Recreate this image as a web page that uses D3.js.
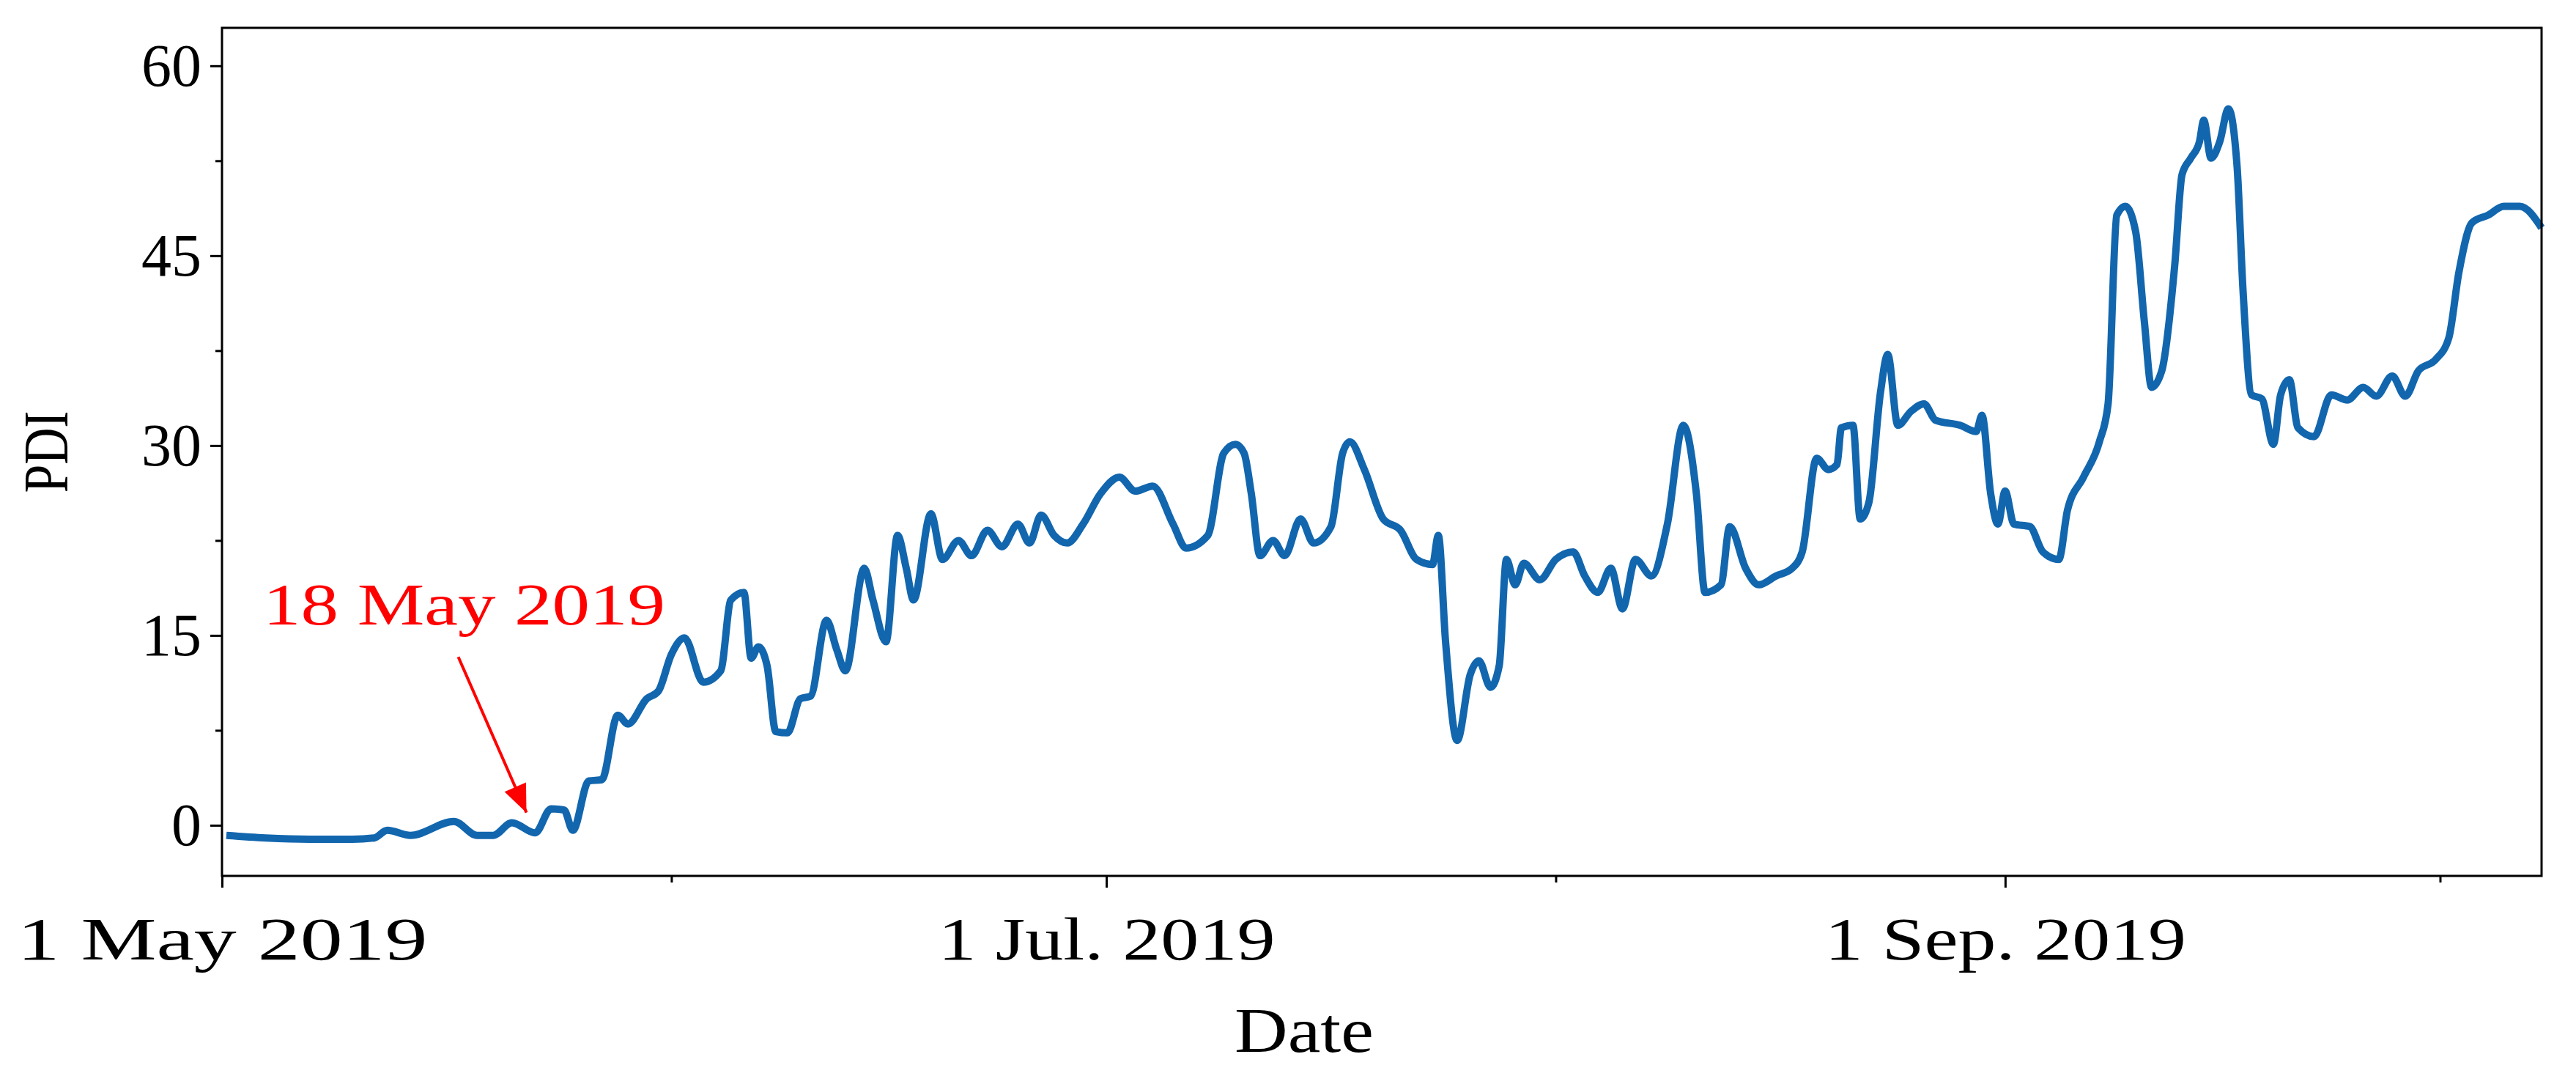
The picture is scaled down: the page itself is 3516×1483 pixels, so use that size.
<!DOCTYPE html>
<html><head><meta charset="utf-8">
<script src="https://cdn.jsdelivr.net/npm/d3@7"></script>
<style>body{margin:0;background:#fff}</style></head>
<body><svg id="c" width="3516" height="1483"></svg>
<script>
const dayOffsets=[0.3,3,6,9,10.5,11.4,13,16,17.6,18.7,20,21.6,22.7,23.6,24.2,25.3,26.2,27.3,28,29.3,30.1,31,31.9,33.2,34.4,35.1,36,36.5,37,37.6,38.2,39,39.9,40.6,41.7,42.4,43,44.3,44.9,45.8,46.6,47.2,47.7,48.9,49.7,50.8,51.7,52.8,53.8,54.9,55.7,56.5,57.4,58.3,59.4,60.6,61.9,63,64.2,65.6,66.5,68,69.1,69.9,70.5,71,71.6,72.5,73.3,74.4,75.3,76.5,77.3,77.8,78.8,80.1,81.3,82.4,83.5,83.9,84.4,85.2,86.1,86.7,87.5,88.1,88.6,89.2,89.8,90.9,92,93.2,94,94.9,95.8,96.6,97.5,98.6,99.7,100.8,101.7,102.3,103.4,104,105.1,106,107.2,108.3,109,110,110.8,111.4,111.7,112.5,113,113.6,114.4,114.9,115.6,116.5,117.4,118.2,119.9,121,121.4,122,122.5,123,123.6,124.7,125.6,126.7,127.3,128.4,129.5,130.1,130.7,131.3,132,132.6,133.1,133.8,134.7,135.2,135.8,136.4,136.7,137.2,137.8,138.4,139,139.4,140,140.7,141.5,142,142.6,143.2,144.3,145.5,146.6,147.7,148.6,149.7,150.6,151.5,152.7,153.6,154.3,155.2,156.3,157.4,158.5,160];
const pdiValues=[-0.8,-1,-1.1,-1.1,-1,-0.4,-0.8,0.3,-0.8,-0.8,0.2,-0.6,1.3,1.2,-0.4,3.5,3.6,8.7,8,10,10.6,13.5,14.8,11.3,12.2,17.8,18.4,13.2,14.1,12.6,7.4,7.3,10,10.2,16.2,13.9,12.2,20.3,17.8,14.5,22.9,20.3,17.8,24.6,21,22.5,21.3,23.3,22,23.8,22.3,24.5,22.9,22.3,23.8,26.2,27.5,26.4,26.8,23.8,21.9,22.9,29.4,30.1,29.4,26.2,21.3,22.5,21.3,24.2,22.3,23.6,29.4,30.3,28.1,24.2,23.3,21,20.6,22.9,14.5,6.7,11.9,13,10.9,12.6,21,19,20.7,19.4,21,21.6,19.7,18.4,20.3,17.1,21,19.7,23.8,31.6,26.2,18.4,19,23.6,20.3,19,19.7,20.3,21.6,29,28.1,28.5,31.4,31.6,24.2,25.5,34.2,37.2,31.6,32.7,33.3,32,31.6,31.1,32.4,26.2,23.8,26.4,23.8,23.6,21.6,21,24.9,27.5,30.3,33.3,48.2,48.9,46.9,39.8,34.6,35.9,44.3,51.4,52.7,54,55.7,52.7,54,56.6,52,42.4,34,33.7,30.1,34,35.2,31.4,30.7,34,33.6,34.6,33.9,35.5,33.9,35.9,36.8,38.5,43.7,47.6,48.2,48.9,48.9,47.2];
const yTicks=[0,15,30,45,60];
const xTickDates=["2019-05-01","2019-07-01","2019-09-01"];
const xTickLabels=["1 May 2019","1 Jul. 2019","1 Sep. 2019"];
const annotationText="18 May 2019";

const svg=d3.select("#c");
const L=303,R=3469,T=38,B=1195;
const start=new Date(2019,4,1);
const day=d=>new Date(start.getTime()+d*86400000);
const x=d3.scaleTime().domain([start,new Date(2019,9,8)]).range([L,R]);
const y=d3.scaleLinear().domain([-4,63]).range([B,T]);
const font="Liberation Serif, Times New Roman, serif";
const data=dayOffsets.map((d,i)=>({t:day(d),v:pdiValues[i]}));

svg.append("path").datum(data).attr("fill","none").attr("stroke","#1266ae").attr("stroke-width",10)
 .attr("stroke-linejoin","round").attr("d",d3.line().x(d=>x(d.t)).y(d=>y(d.v)).curve(d3.curveMonotoneX));

svg.append("g").attr("transform",`translate(${L},0)`).call(d3.axisLeft(y).tickValues(yTicks).tickSize(16).tickPadding(12));
svg.append("g").attr("transform",`translate(${L},0)`).call(d3.axisLeft(y).tickValues(d3.range(0,63,7.5).filter(v=>v%15)).tickSize(9).tickFormat(""));
svg.append("g").attr("transform",`translate(0,${B})`).call(d3.axisBottom(x).tickValues(xTickDates.map(s=>new Date(s+"T00:00"))).tickFormat((d,i)=>xTickLabels[i]).tickSize(16).tickPadding(40)).attr("class","xax");
svg.append("g").attr("transform",`translate(0,${B})`).call(d3.axisBottom(x).tickValues([new Date(2019,5,1),new Date(2019,7,1),new Date(2019,9,1)]).tickSize(9).tickFormat(""));
svg.selectAll(".domain").remove();
svg.selectAll(".tick line").attr("stroke","#000").attr("stroke-width",3);
svg.selectAll(".tick text").attr("font-family",font).attr("font-size",82).attr("fill","#000");
const xLens=[560,460,493];
svg.selectAll(".xax .tick text").attr("textLength",(d,i)=>xLens[i]).attr("lengthAdjust","spacingAndGlyphs");
svg.append("rect").attr("x",L).attr("y",T).attr("width",R-L).attr("height",B-T).attr("fill","none").attr("stroke","#000").attr("stroke-width",3);

svg.append("text").attr("x",1780).attr("y",1435).attr("text-anchor","middle").attr("font-family",font).attr("font-size",86).attr("textLength",190).attr("lengthAdjust","spacingAndGlyphs").text("Date");
svg.append("text").attr("transform",`translate(92,${(T+B)/2}) rotate(-90)`).attr("text-anchor","middle").attr("font-family",font).attr("font-size",86).attr("textLength",112).attr("lengthAdjust","spacingAndGlyphs").text("PDI");

svg.append("text").attr("x",359).attr("y",852).attr("font-family",font).attr("font-size",80).attr("fill","#ff0000").attr("textLength",549).attr("lengthAdjust","spacingAndGlyphs").text(annotationText);
const ax1=x(day(16.3)),ay1=y(13.3),ax2=x(day(21)),ay2=y(1.0);
svg.append("line").attr("x1",ax1).attr("y1",ay1).attr("x2",ax2).attr("y2",ay2).attr("stroke","#ff0000").attr("stroke-width",4);
const ang=Math.atan2(ay2-ay1,ax2-ax1),hl=38,hw=16;
const p=(a,b)=>[ax2+a*Math.cos(ang)-b*Math.sin(ang),ay2+a*Math.sin(ang)+b*Math.cos(ang)];
svg.append("path").attr("d","M"+[p(0,0),p(-hl,hw),p(-hl,-hw)].join("L")+"Z").attr("fill","#ff0000");
</script></body></html>
